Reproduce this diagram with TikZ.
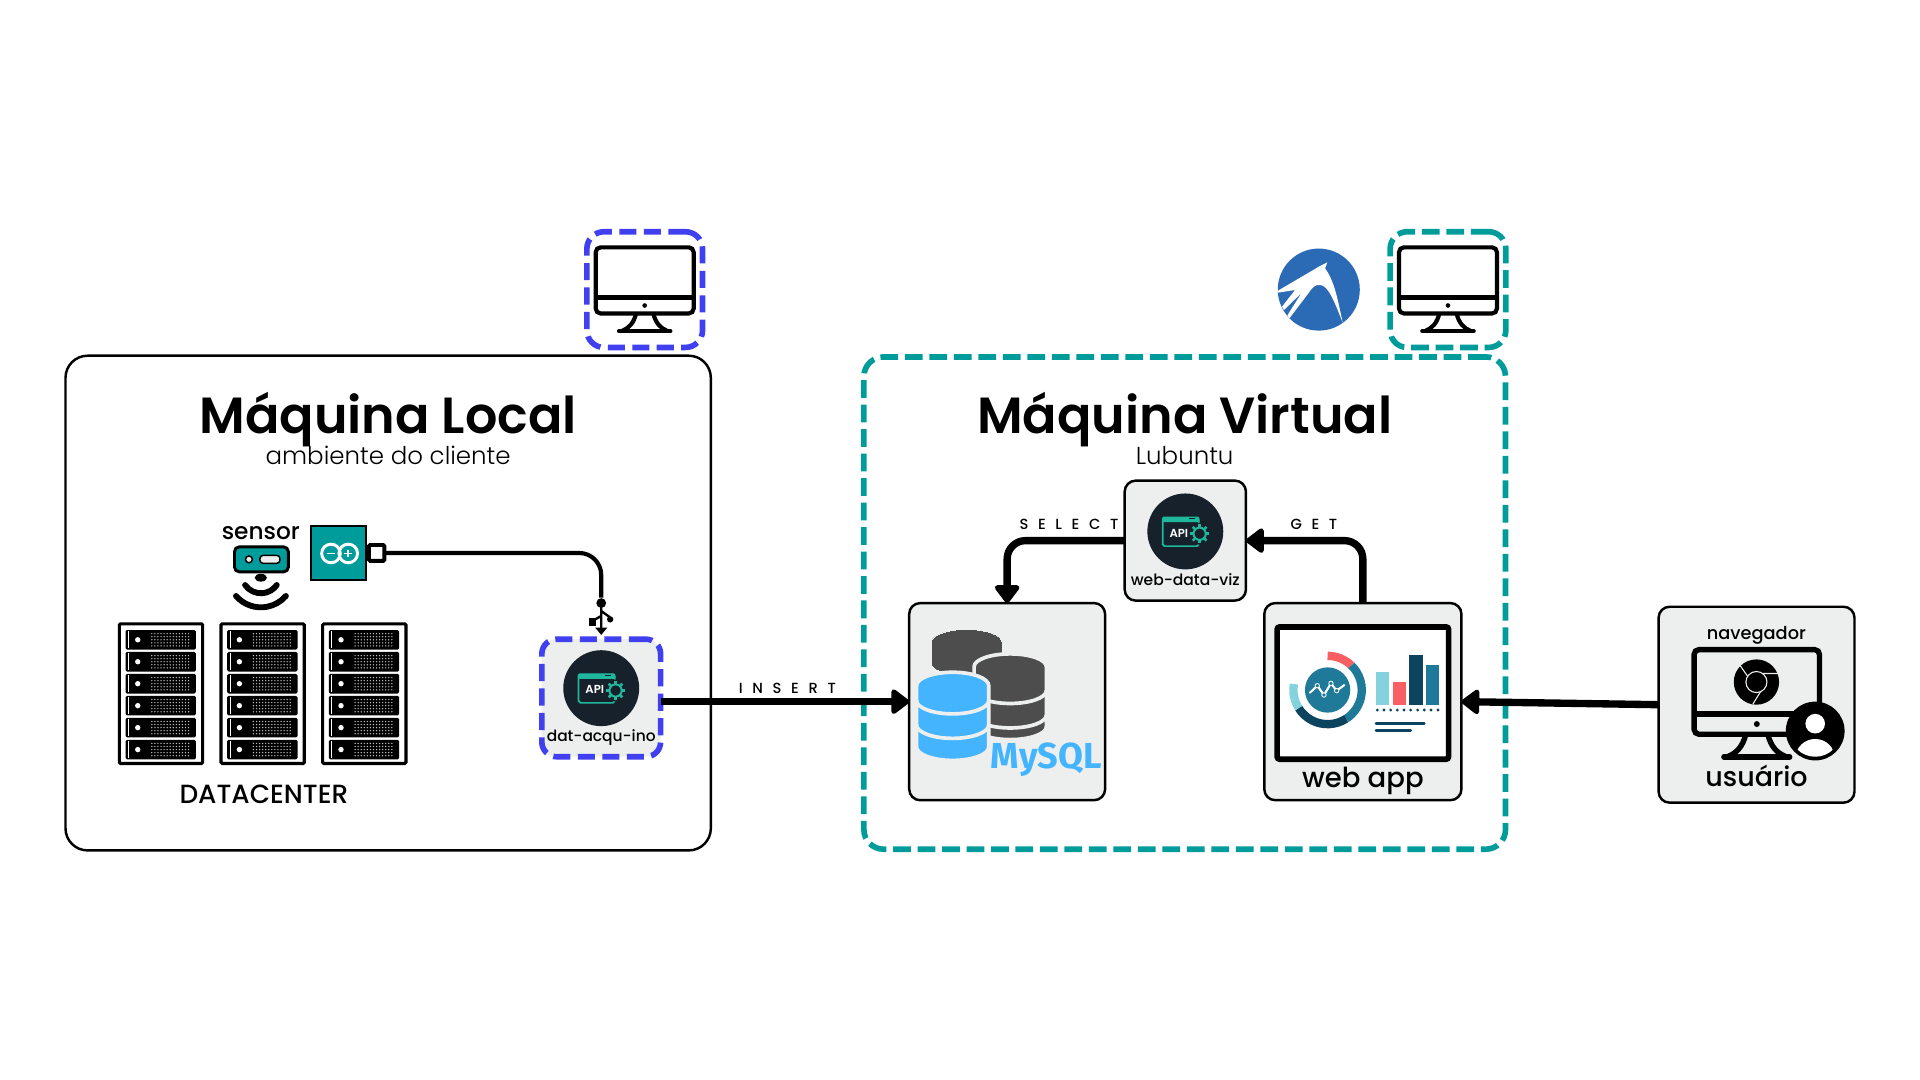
\documentclass[tikz,border=0pt]{standalone}
\usepackage{fontspec}
\setmainfont{Poppins}
\newfontfamily\medfont{Poppins Medium}
\newfontfamily\lightfont{Poppins Light}
\newfontfamily\boldfont{Poppins SemiBold}
\newfontfamily\mysqlfont{Fira Sans}
\newfontfamily\spacedfont[LetterSpace=66]{Poppins Medium}
\usetikzlibrary{arrows.meta}
\definecolor{tealc}{HTML}{009C9C}
\definecolor{bluec}{HTML}{4040F0}
\definecolor{panelc}{HTML}{ECEFEE}
\definecolor{apidark}{HTML}{16212B}
\definecolor{apigreen}{HTML}{20B89C}
\definecolor{lubu}{HTML}{2B6BB5}
\definecolor{dbgrey}{HTML}{4D4D4D}
\definecolor{dbblue}{HTML}{45B4FF}
\definecolor{ch1}{HTML}{1F7A99}
\definecolor{ch2}{HTML}{0C4460}
\definecolor{ch3}{HTML}{85D2DF}
\definecolor{ch4}{HTML}{F75F63}
\tikzset{
  x=1pt,y=-1pt,
  boxnode/.style={inner sep=0pt,outer sep=0pt,rectangle},
  panel/.style={boxnode,draw=black,fill=panelc,line width=2pt,rounded corners=9pt},
  localbox/.style={boxnode,draw=black,line width=2pt,rounded corners=18pt},
  dashteal/.style={boxnode,draw=tealc,line width=4.6pt,rounded corners=16pt,dash pattern=on 14.5pt off 5.5pt},
  dashblue/.style={boxnode,draw=bluec,line width=4.6pt,rounded corners=14pt,dash pattern=on 14pt off 6pt},
  conn/.style={line width=6pt,-{Triangle[length=16pt,width=23pt,round]}},
  label/.style={inner sep=0pt,text=black},
  pics/monitor/.style={code={
    \draw[black,line width=#1,rounded corners=4pt] (0,0) rectangle (80,54);
    \draw[black,line width=#1] (0,41) -- (80,41);
    \fill[black] (40,47.5) circle[radius=1.9pt];
    \draw[black,line width=#1] (33,54) .. controls (31,62) and (27,66) .. (22,68);
    \draw[black,line width=#1] (47,54) .. controls (49,62) and (53,66) .. (58,68);
    \draw[black,line width=#1,line cap=round] (19,68.5) -- (61,68.5);
  }},
  pics/apiicon/.style={code={
    \fill[apidark] (0,0) circle[radius=31pt];
    \draw[apigreen,line width=1.4pt,rounded corners=1.5pt] (-18.5,-11) rectangle (11,12);
    \fill[apigreen,rounded corners=1pt] (-19,-12) rectangle (11.5,-7.5);
    \draw[apidark,line width=.8pt] (3,-10.2) -- (8,-10.2);
    \node[inner sep=0pt,text=white] at (-5.3,1.4) {\fontsize{9.5}{10}\boldfont API};
    \fill[apidark] (11.7,1.9) circle[radius=9pt];
    \foreach \a in {0,45,...,315}{\draw[apigreen,line width=2.1pt] (11.7,1.9) ++(\a:4.5pt) -- ++(\a:3.4pt);}
    \draw[apigreen,line width=1.6pt] (11.7,1.9) circle[radius=5pt];
  }},
  pics/server/.style={code={
    \draw[black,line width=2.6pt,fill=white,rounded corners=1pt] (0,0) rectangle (68,114);
    \foreach \r in {0,...,5}{
      \begin{scope}[shift={(0,\r*17.93)}]
        \fill[black,rounded corners=1.2pt] (5,5) rectangle (62.5,21);
        \draw[white,line width=.7pt] (7.5,6) -- (7.5,20);
        \fill[white] (15,13) circle[radius=2.2pt];
        \foreach \c in {0,...,12}{\foreach \d in {0,...,4}{
          \fill[white!75!black] (26.5+\c*2.5,8+\d*2.5) circle[radius=.6pt];}}
      \end{scope}
    }
  }},
}
\newcommand{\dbcyl}[8]{%
  \pgfmathsetmacro{\xa}{#1}\pgfmathsetmacro{\xb}{#1+#3}\pgfmathsetmacro{\rx}{#3/2}
  \pgfmathsetmacro{\yt}{#2+#5}\pgfmathsetmacro{\yb}{#4-#5}
  \path[#6,fill,draw=panelc,line width=#7pt] (\xa,\yt) arc[start angle=180,end angle=0,x radius=\rx pt,y radius=#5pt] -- (\xb,\yb) arc[start angle=0,end angle=-180,x radius=\rx pt,y radius=#5pt] -- cycle;
  \foreach \g in {#8}{\draw[panelc,line width=3pt] (\xa,\g) arc[start angle=180,end angle=360,x radius=\rx pt,y radius=#5pt];}
}
\begin{document}
\begin{tikzpicture}
\useasboundingbox (0,0) rectangle (1568,882);
\fill[white] (0,0) rectangle (1568,882);
% containers
\node[localbox,minimum width=527pt,minimum height=404pt] (local) at (317,492.5) {};
\node[dashteal,minimum width=524pt,minimum height=402pt] (virtual) at (967.5,492.5) {};
\node[dashblue,minimum width=94.5pt,minimum height=94.5pt] (bluemon) at (526.5,236.5) {};
\node[dashteal,rounded corners=14pt,minimum width=94.5pt,minimum height=94.5pt] (tealmon) at (1182.5,236.5) {};
\pic at (486.5,202) {monitor=3.4pt};
\pic at (1142.5,202) {monitor=3.4pt};
% Lubuntu logo
\fill[lubu] (1077,236.5) circle[radius=33.5pt];
\begin{scope}[shift={(1037.2,196)},x=.2722pt,y=-.2722pt]
\fill[white] (24,152) -- (150,78) -- (172,67) -- (165,85) .. controls (195,125) and (205,190) .. (218,248) .. controls (195,190) and (175,135) .. (150,135) .. controls (135,132) and (125,145) .. (115,160) -- (58,235) -- (52,226) -- (95,158) -- (42,210) -- (36,200) -- (75,150) -- (24,158) -- cycle;
\end{scope}
% titles
\node[label] (titleL) at (317,343) {\fontsize{41.5}{44}\boldfont Máquina Local};
\node[label] (subL) at (317,372) {\fontsize{20}{22}\lightfont ambiente do cliente};
\node[label] (titleV) at (967.5,343) {\fontsize{41.5}{44}\boldfont Máquina Virtual};
\node[label] (subV) at (967.5,372) {\fontsize{20}{22}\lightfont Lubuntu};
% sensor
\node[label] (sensortxt) at (213,435.5) {\fontsize{19}{20}\medfont sensor};
\node[boxnode,draw=black,fill=tealc,line width=2.4pt,rounded corners=4pt,minimum width=44pt,minimum height=20.5pt] (sensor) at (213.5,456.8) {};
\draw[black,line width=1.2pt,fill=panelc] (203.3,456.8) circle[radius=2.8pt];
\draw[black,line width=1.2pt,fill=panelc,rounded corners=2.5pt] (212.3,453.6) rectangle (228.6,460);
\fill[black] (213,471.8) ellipse[x radius=5pt,y radius=3.2pt];
\draw[black,line width=4.8pt,line cap=round] (213.1,468.7) ++(-145:15.8pt) arc[start angle=-145,end angle=-35,radius=15.8pt];
\draw[black,line width=4.8pt,line cap=round] (213.1,469) ++(-139:27pt) arc[start angle=-139,end angle=-41,radius=27pt];
% arduino
\node[boxnode,draw=black,fill=tealc,line width=1.6pt,minimum width=44.6pt,minimum height=44.4pt] (arduino) at (276.3,451.5) {};
\draw[white,line width=2.4pt] (270.3,452) circle[radius=7.6pt] (284.4,452) circle[radius=7.6pt];
\draw[white,line width=1.3pt] (267,452) -- (273.5,452) (281.2,452) -- (287.6,452) (284.4,448.8) -- (284.4,455.2);
\node[boxnode,draw=black,fill=white,line width=3.2pt,rounded corners=1pt,minimum width=12.5pt,minimum height=13pt] (plug) at (307.6,451.6) {};
% api boxes
\node[panel,draw=none,rounded corners=12pt,minimum width=97pt,minimum height=96pt] (apibg) at (491,570) {};
\node[dashblue,minimum width=97pt,minimum height=96pt,rounded corners=12pt] (apibox) at (491,570) {};
\pic at (491,562) {apiicon};
\node[label] (apitxt) at (491,602.5) {\fontsize{12.6}{14}\medfont dat-acqu-ino};
\node[panel,minimum width=99pt,minimum height=98pt] (viz) at (968,441.5) {};
\pic at (968,434) {apiicon};
\node[label] (viztxt) at (968,473.5) {\fontsize{12.7}{14}\medfont web-data-viz};
% usb
\coordinate (usbtop) at (491,488);
\draw[black,line width=3.4pt,rounded corners=18pt] (plug.east) -| (usbtop);
\fill[black] (491,492.5) circle[radius=4pt];
\draw[black,line width=1.9pt] (491,492) -- (491,514) (491,499) -- (498,504) (491,503) -- (484,507);
\fill[black] (491,518.5) -- (486,512.5) -- (496,512.5) -- cycle;
\fill[black] (498.3,505.8) circle[radius=2.6pt];
\fill[black] (481,505) rectangle (486.5,511);
% servers
\pic at (97.5,509.5) {server};
\pic at (180.5,509.5) {server};
\pic at (263.5,509.5) {server};
\node[label] (dc) at (215.5,648.5) {\fontsize{21.5}{24}\medfont DATACENTER};
% mysql
\node[panel,minimum width=160pt,minimum height=161pt] (mysql) at (822.5,573) {};
\dbcyl{760.5}{514}{58}{552}{10.5}{dbgrey}{0}{}
\dbcyl{795.5}{534}{59}{604}{10.5}{dbgrey}{3}{564,584}
\dbcyl{748.5}{549}{59}{621}{11}{dbblue}{3}{572,592}
\node[inner sep=0pt,text=dbblue] (mysqltxt) at (854.5,620) {\fontsize{29.5}{30}\mysqlfont\bfseries MySQL};
% web app
\node[panel,minimum width=161pt,minimum height=161pt] (webapp) at (1113,573) {};
\draw[black,line width=4.6pt,fill=white,rounded corners=2pt] (1043,512) rectangle (1183,620);
\coordinate (cc) at (1084.2,563.5);
\fill[ch1] (cc) circle[radius=18.5pt];
\draw[ch4,line width=6.8pt] (cc) ++(90:27.9pt) arc[start angle=90,end angle=46,radius=27.9pt];
\draw[ch1,line width=6.8pt] (cc) ++(46:27.9pt) arc[start angle=46,end angle=-57,radius=27.9pt];
\draw[ch2,line width=6.8pt] (cc) ++(-57:27.9pt) arc[start angle=-57,end angle=-148,radius=27.9pt];
\draw[ch3,line width=6.8pt] (cc) ++(-148:27.9pt) arc[start angle=-148,end angle=-190,radius=27.9pt];
\begin{scope}[shift={(1045.3,522.7)},x=.2722pt,y=-.2722pt]
\draw[white,line width=1.7pt,line cap=round,line join=round] (90,158) -- (112,137) -- (132,165) -- (153,130) -- (170,152) -- (193,135);
\foreach \p in {(112,137),(132,165),(153,130),(170,152)}{\draw[white,line width=.7pt,fill=ch1] \p circle[radius=1.8pt];}
\fill[ch3] (288,96) rectangle (327,195);
\fill[ch4] (339,126) rectangle (378,195);
\fill[ch2] (388,45) rectangle (428,195);
\fill[ch1] (438,75) rectangle (478,195);
\foreach \d in {292,312,332,352,372,392,413,433,453,474}{\fill[ch2] (\d,210) circle[radius=1.3pt];}
\draw[ch2,line width=2.2pt,line cap=round] (288,251) -- (433,251) (288,271) -- (392,271);
\end{scope}
\node[label] (webtxt) at (1113,637.5) {\fontsize{22.5}{24}\medfont web app};
% usuario
\node[panel,minimum width=160pt,minimum height=160pt] (usuario) at (1434.5,575.5) {};
\node[label] (navtxt) at (1434.4,519) {\fontsize{14.5}{16}\medfont navegador};
\pic[scale=1.28] at (1383.5,530.5) {monitor=4.4pt};
\fill[black] (1434.4,557) circle[radius=18.5pt];
\draw[panelc,line width=.9pt] (1434.4,557) circle[radius=8.6pt];
\draw[panelc,line width=.9pt] (1439.5,550) -- (1452,550) (1427,552) -- (1420,542) (1438,564.5) -- (1431.5,575);
\fill[black] (1482.4,597) circle[radius=24pt];
\fill[white] (1482.4,591) circle[radius=8pt];
\begin{scope}
\clip (1482.4,597) circle[radius=21pt];
\fill[white] (1482.4,619) ellipse[x radius=16pt,y radius=15.5pt];
\end{scope}
\node[label] (ustxt) at (1434.5,634) {\fontsize{22}{24}\medfont usuário};
% connectors
\draw[conn] (apibox.east |- mysql.west) -- (mysql.west);
\draw[conn,rounded corners=15pt] (viz.west) -| (mysql.north);
\draw[conn,rounded corners=15pt] (webapp.north) |- (viz.east);
\draw[conn] (usuario.west) -- (webapp.east);
% labels
\node[label] (lins) at (643,562) {\fontsize{12}{12}\spacedfont INSERT};
\node[label] (lsel) at (873,428) {\fontsize{12}{12}\spacedfont SELECT};
\node[label] (lget) at (1073,428) {\fontsize{12}{12}\spacedfont GET};
\end{tikzpicture}
\end{document}
